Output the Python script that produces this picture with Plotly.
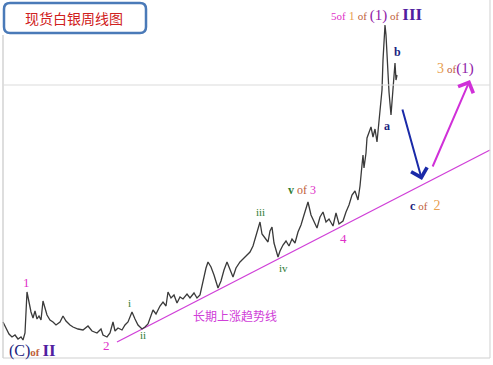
import plotly.graph_objects as go

# Weekly silver price path (x = week index, y = price level)
week = [3, 6, 9, 12, 15, 18, 21, 23, 25, 27, 29, 31, 33, 35, 37, 39, 41, 43, 45, 47,
        50, 53, 56, 60, 63, 66, 70, 73, 78, 83, 88, 92, 97, 101, 103, 107, 110, 113, 115, 118,
        122, 125, 128, 132, 135, 138, 142, 145, 148, 150, 153, 156, 160, 163, 166, 168, 171, 174, 177, 180,
        183, 187, 190, 194, 197, 200, 203, 206, 208, 211, 214, 218, 221, 224, 227, 230, 233, 236, 240, 243,
        247, 250, 253, 257, 260, 262, 265, 268, 270, 272, 274, 278, 280, 283, 286, 289, 292, 295, 298, 301,
        304, 308, 311, 314, 317, 320, 323, 326, 329, 333, 336, 339, 343, 346, 349, 352, 355, 358, 360, 362,
        363, 364, 366, 367, 369, 371, 373, 375, 377, 378, 380, 382, 383, 384, 385, 386, 387, 389, 391, 392,
        393, 394, 395, 396, 397]
price = [43, 37, 31, 28, 30, 26, 28, 25, 32, 73, 62, 53, 47, 54, 46, 49, 45, 64, 57, 50,
         45, 43, 40, 43, 49, 44, 40, 38, 36, 35, 39, 34, 32, 36, 30, 28, 32, 43, 34, 37,
         35, 40, 43, 53, 46, 40, 36, 38, 41, 47, 55, 51, 59, 63, 59, 73, 67, 70, 62, 68,
         66, 71, 67, 72, 67, 70, 85, 97, 103, 98, 90, 77, 84, 95, 103, 95, 88, 97, 103, 106,
         110, 113, 119, 133, 143, 131, 127, 123, 134, 138, 122, 108, 114, 120, 124, 119, 126, 122, 133, 140,
         150, 163, 150, 143, 137, 148, 153, 143, 146, 139, 152, 141, 144, 153, 160, 170, 174, 165, 179, 200,
         210, 197, 212, 227, 233, 238, 228, 236, 223, 235, 255, 275, 305, 325, 340, 330, 305, 273, 250, 265,
         281, 297, 302, 285, 290]

# Long-term rising trend line
trend_x = [117, 490]
trend_y = [23, 215]

# Projection arrows: (tail, head)
down_arrow = [(402, 257), (422, 185)]
up_arrow = [(432, 197), (470, 285)]

PINK = "#e030c8"
GREEN = "#2e7d32"
NAVY = "#1a237e"
ORANGE = "#e8a050"
BROWN = "#c0603a"
PURPLE = "#9020a8"
DPURPLE = "#5020a0"
SERIF = "Liberation Serif"

fig = go.Figure()
fig.add_trace(go.Scatter(x=trend_x, y=trend_y, mode="lines",
                         line=dict(color="#d040d8", width=1.3), hoverinfo="skip"))
fig.add_trace(go.Scatter(x=week, y=price, mode="lines",
                         line=dict(color="#3a3a3a", width=1.3), hoverinfo="skip"))

shapes = [
    dict(type="line", x0=3, x1=3, y0=7, y1=330, line=dict(color="#c8c8c8", width=1.2)),
    dict(type="line", x0=3, x1=490, y0=7, y1=7, line=dict(color="#d0d0d0", width=1.2)),
    dict(type="line", x0=490, x1=490, y0=7, y1=365, line=dict(color="#d8d8d8", width=1.2)),
    dict(type="line", x0=3, x1=490, y0=280, y1=280, line=dict(color="#dcdcdc", width=1.2)),
    dict(type="path",
         path="M 10 362 L 140 362 Q 146 362 146 356 L 146 338 Q 146 332 140 332 "
              "L 10 332 Q 4 332 4 338 L 4 356 Q 4 362 10 362 Z",
         line=dict(color="#4a7ab8", width=2.5), fillcolor="white"),
]

def lab(x, y, text, size=12, color="black", xanchor="center"):
    return dict(x=x, y=y, text=text, showarrow=False, xanchor=xanchor, yanchor="middle",
                font=dict(family=SERIF, size=size, color=color))

annotations = [
    dict(x=74, y=347, text="现货白银周线图", showarrow=False,
         font=dict(family="Noto Sans CJK SC", size=14, color="#d02020")),
    lab(26, 83, "1", 13, PINK),
    lab(7, 15, f"<span style='color:{NAVY};font-size:16px'>(C)</span>"
               f"<span style='color:{BROWN};font-size:11px'><b>of</b></span> "
               f"<span style='color:{DPURPLE};font-size:17px'><b>II</b></span>", 12, NAVY, "left"),
    lab(106, 20, "2", 13, PINK),
    lab(129, 62, "i", 11, GREEN),
    lab(143, 30, "ii", 11, GREEN),
    dict(x=235, y=50, text="长期上涨趋势线", showarrow=False,
         font=dict(family="Noto Sans CJK SC", size=12, color="#d040d8")),
    lab(260, 153, "iii", 11, GREEN),
    lab(283, 97, "iv", 11, GREEN),
    lab(302, 175, f"<b>v</b> <span style='color:{BROWN}'>of</span> "
                  f"<span style='color:{PINK}'>3</span>", 12, GREEN),
    lab(343, 127, "4", 13, PINK),
    lab(376, 351, f"<span style='color:{PINK};font-size:11px'>5of</span> "
                  f"<span style='color:{ORANGE};font-size:12px'>1</span> "
                  f"<span style='color:{BROWN};font-size:11px'>of</span> "
                  f"<span style='color:{PURPLE};font-size:15px'>(1)</span>"
                  f"<span style='color:{BROWN};font-size:11px'> of</span> "
                  f"<span style='color:{DPURPLE};font-size:17px'><b>III</b></span>", 12, PINK),
    lab(397, 313, "<b>b</b>", 12, NAVY),
    lab(387, 239, "<b>a</b>", 12, NAVY),
    lab(455, 297, f"<span style='color:{ORANGE};font-size:14px'>3</span> "
                  f"<span style='color:{BROWN};font-size:11px'>of</span>"
                  f"<span style='color:{PURPLE};font-size:15px'>(1)</span>", 12, ORANGE),
    lab(425, 160, f"<b>c</b> <span style='color:{BROWN};font-size:11px'>of</span>  "
                  f"<span style='color:{ORANGE};font-size:14px'>2</span>", 12, NAVY),
]

for (tail, head), col in ((down_arrow, "#1a2aa8"), (up_arrow, "#d030d8")):
    annotations.append(dict(x=head[0], y=head[1], ax=tail[0], ay=tail[1],
                            xref="x", yref="y", axref="x", ayref="y", text="",
                            showarrow=True, arrowhead=4, arrowsize=1.6, arrowwidth=2,
                            arrowcolor=col))

fig.update_layout(
    width=493, height=365, autosize=False,
    margin=dict(l=0, r=0, t=0, b=0),
    paper_bgcolor="white", plot_bgcolor="white",
    showlegend=False,
    xaxis=dict(range=[0, 493], visible=False, fixedrange=True),
    yaxis=dict(range=[0, 365], visible=False, fixedrange=True),
    shapes=shapes, annotations=annotations,
)

fig.write_html("out.html", config={"displayModeBar": False},
               post_script="document.body.style.margin='0';document.body.style.overflow='hidden';")
